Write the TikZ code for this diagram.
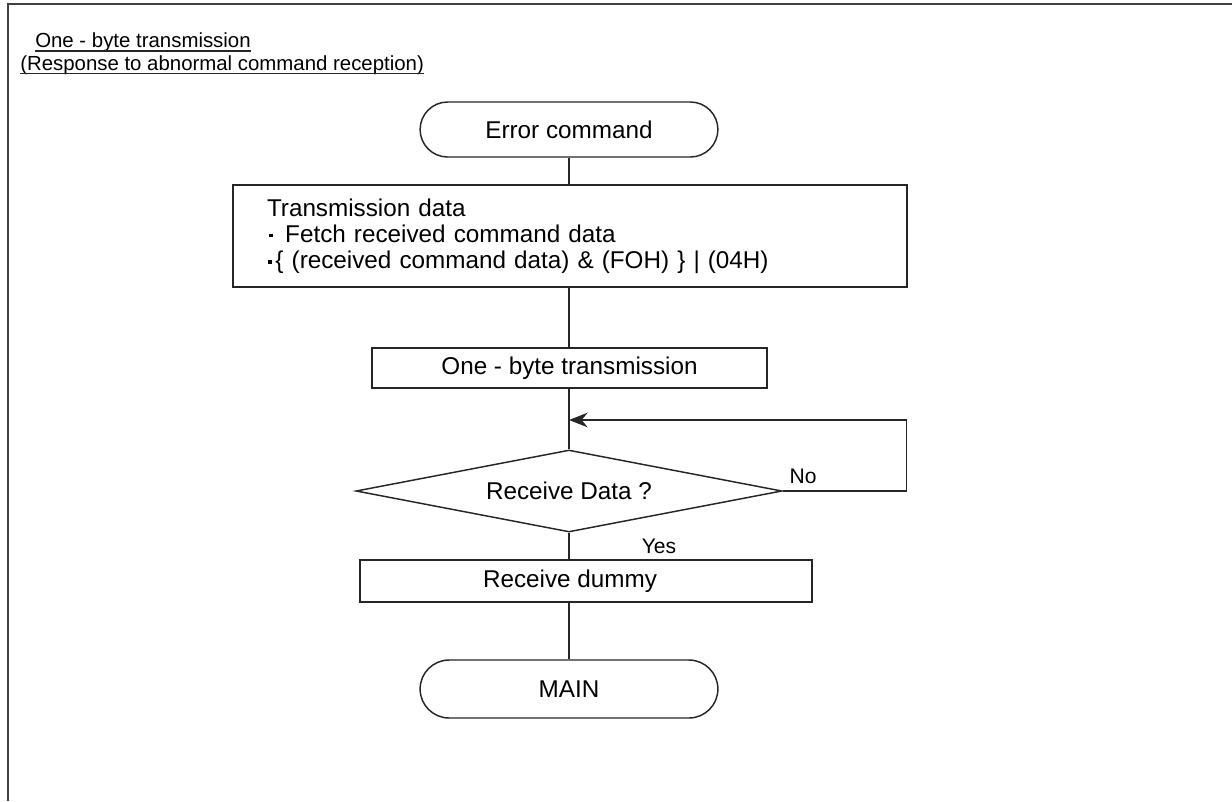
\documentclass[tikz,border=0pt]{standalone}
\usepackage{fontspec}
\setmainfont{Liberation Sans}
\usetikzlibrary{shapes.misc,shapes.geometric,arrows.meta}

\newcommand{\sqbul}{\rule[0.2em]{0.15em}{0.15em}}

\tikzset{
  flowline/.style={line width=1.1pt, draw=black!85},
  startstop/.style={rounded rectangle, draw=black!85, line width=1.1pt,
    minimum width=230pt, font=\fontsize{18.2}{20}\selectfont},
  procbox/.style={rectangle, draw=black!85, line width=1.1pt,
    font=\fontsize{18.2}{19.6}\selectfont},
  decision/.style={diamond, aspect=5.2, draw=black!85, line width=1.1pt, inner sep=0pt,
    minimum width=319.5pt, minimum height=61.5pt,
    font=\fontsize{18.2}{20}\selectfont},
  lbl/.style={font=\fontsize{15.8}{18}\selectfont, inner sep=0pt},
  titletext/.style={font=\fontsize{15.3}{18}\selectfont, inner sep=0pt, anchor=base west}
}

\begin{document}
\begin{tikzpicture}[x=0.75pt, y=-0.75pt]

  \useasboundingbox (0,0) rectangle (1232,801);

  % Frame
  \draw[black!75, line width=1.6pt] (1232,4) -- (8,4) -- (8,801);

  % Titles
  \node[titletext] (title1) at (35,47) {One - byte transmission};
  \node[titletext] (title2) at (20,70) {(Response to abnormal command reception)};
  \draw[flowline, line width=0.9pt] ([yshift=-3pt]title1.base west) -- ([yshift=-3pt]title1.base east);
  \draw[flowline, line width=0.9pt] ([yshift=-2.6pt]title2.base west) -- ([yshift=-2.6pt]title2.base east);

  % Flow
  \node[startstop, minimum height=41.25pt] (err) at (569,129.5) {Error command};
  \node[procbox, minimum width=505.5pt, minimum height=76.5pt, text width=454.5pt, align=left]
    (txdata) at (570,236) {Transmission data\\
      \hspace*{0.1em}\sqbul\hspace{0.5em}Fetch received command data\\
      \hspace*{0.05em}\sqbul\hspace{0.15em}\{ (received command data) \& (FOH) \} | (04H)};
  \node[procbox, minimum width=296.25pt, minimum height=30pt] (onebyte) at (569.5,368) {One - byte transmission};
  \coordinate (loopin) at (569,420);
  \node[decision] (recv) at (569,491) {Receive Data ?};
  \node[procbox, minimum width=339pt, minimum height=31.5pt] (dummy) at (586,581) {Receive dummy\hspace*{24pt}};
  \node[startstop, minimum height=43.5pt] (main) at (569,689) {MAIN};

  % Branch labels
  \node[lbl] (nolbl) at (803,476) {No};
  \node[lbl] (yeslbl) at (659,546) {Yes};

  % Connectors
  \draw[flowline] (err.south) -- (err.south |- txdata.north);
  \draw[flowline] (err.south |- txdata.south) -- (err.south |- onebyte.north);
  \draw[flowline] (err.south |- onebyte.south) -- (recv.north);
  \draw[flowline, -{Stealth[length=14pt, width=11pt, inset=4.5pt]}]
    (recv.east) -- ++(124,0) |- (loopin);
  \draw[flowline] (recv.south) -- (recv.south |- dummy.north);
  \draw[flowline] (recv.south |- dummy.south) -- (main.north);

\end{tikzpicture}
\end{document}
